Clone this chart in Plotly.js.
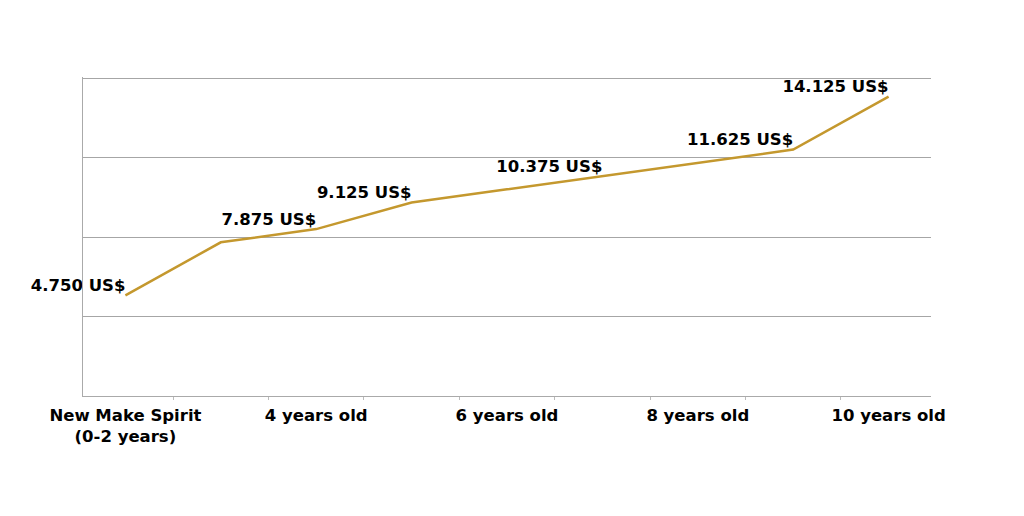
<!DOCTYPE html>
<html>
<head>
<meta charset="utf-8">
<script src="https://cdn.plot.ly/plotly-3.0.1.min.js"></script>
<style>
  html, body { margin: 0; padding: 0; background: #fff; }
  #myDiv { width: 1024px; height: 516px; }
</style>
</head>
<body>
<div id="myDiv"></div>
<script>
// categories (one per year of age)
var idades = ['New Make Spirit<br>(0-2 years)', '3 years old', '4 years old', '5 years old',
              '6 years old', '7 years old', '8 years old', '9 years old', '10 years old'];
// only every other category gets a label on the axis
var rotulosEixo = ['New Make Spirit<br>(0-2 years)', '', '4 years old', '',
                   '6 years old', '', '8 years old', '', '10 years old'];
// price per cask, thousands of US$
var precos = [4.75, 7.25, 7.875, 9.125, 9.75, 10.375, 11.0, 11.625, 14.125];
var rotulosValor = ['4.750 US$', '', '7.875 US$', '9.125 US$', '', '10.375 US$', '', '11.625 US$', '14.125 US$'];

var fonte = 'DejaVu Sans, Verdana, sans-serif';

var linha = {
  x: idades,
  y: precos,
  type: 'scatter',
  mode: 'lines+text',
  text: rotulosValor,
  textposition: 'top left',
  textfont: {family: fonte, size: 16.5, color: '#000', weight: 'bold'},
  line: {color: '#C4982E', width: 2.5},
  hoverinfo: 'none',
  cliponaxis: false
};

var layout = {
  width: 1024,
  height: 516,
  margin: {l: 83, r: 93, t: 77, b: 120},
  paper_bgcolor: '#fff',
  plot_bgcolor: '#fff',
  showlegend: false,
  xaxis: {
    type: 'category',
    tickmode: 'array',
    tickvals: idades,
    ticktext: rotulosEixo,
    tickson: 'boundaries',
    tickangle: 0,
    ticks: 'outside',
    ticklen: 3,
    tickcolor: '#bbb',
    ticklabelstandoff: 4,
    showline: true,
    linecolor: '#aaa',
    linewidth: 1,
    showgrid: false,
    tickfont: {family: fonte, size: 16.5, color: '#000', weight: 'bold'}
  },
  yaxis: {
    range: [0, 15.05],
    dtick: 3.75,
    showticklabels: false,
    showgrid: true,
    gridcolor: '#a6a6a6',
    gridwidth: 1,
    zeroline: false,
    showline: true,
    linecolor: '#aaa',
    linewidth: 1
  }
};

Plotly.newPlot('myDiv', [linha], layout, {displayModeBar: false, staticPlot: true});
</script>
</body>
</html>
